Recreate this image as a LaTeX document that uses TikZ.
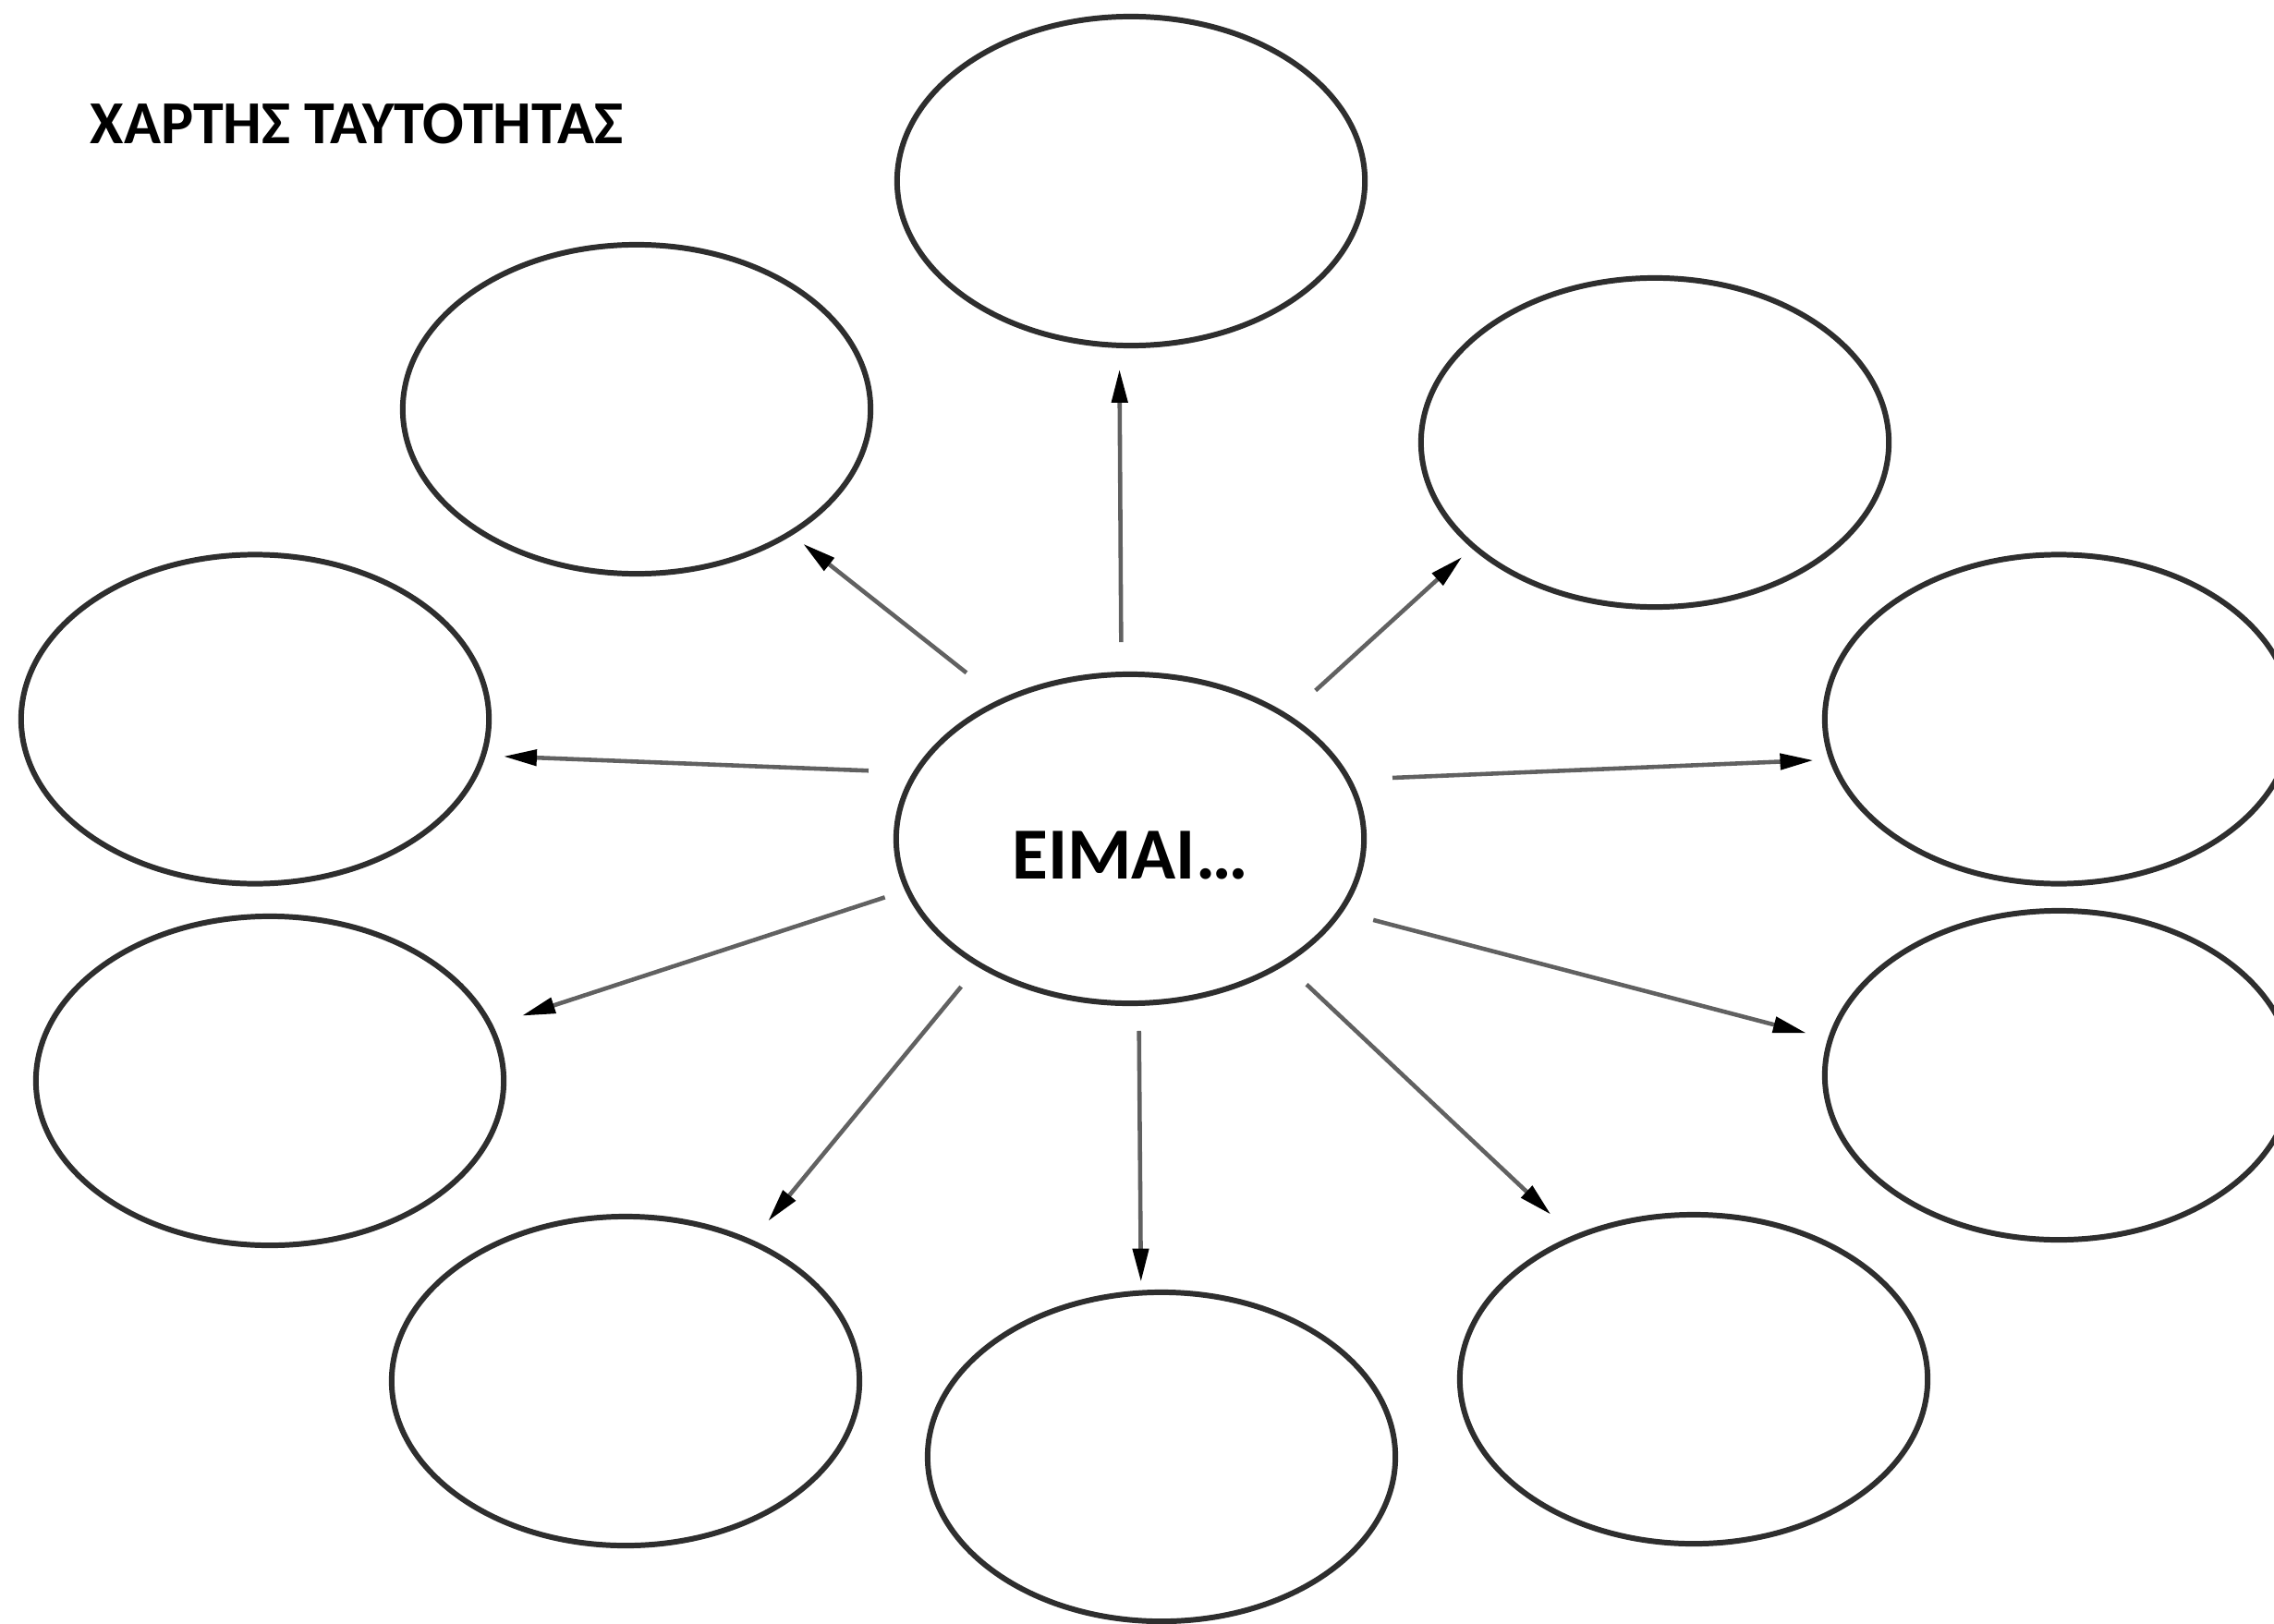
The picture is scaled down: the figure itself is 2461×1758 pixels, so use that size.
\documentclass[tikz,border=0pt]{standalone}
\usepackage{fontspec}
\setmainfont{Carlito}
\usetikzlibrary{arrows.meta,shapes.geometric}
\begin{document}
\begin{tikzpicture}[x=0.01cm,y=-0.01cm,
  bub/.style={ellipse, draw=black!82, line width=1.7pt, minimum width=5.06cm, minimum height=3.56cm, inner sep=0pt},
  arr/.style={draw=black!62, line width=1.3pt, -{Triangle[length=0.36cm,width=0.17cm,color=black]}},
  titletext/.style={font=\bfseries\fontsize{18.8pt}{23pt}\selectfont, inner sep=0pt},
  centertext/.style={font=\bfseries\fontsize{22.6pt}{27pt}\selectfont, inner sep=0pt}]
\useasboundingbox (0,0) rectangle (2461,1758);
\fill[white] (0,0) rectangle (2461,1758);
\clip (0,0) rectangle (2461,1758);

\node[titletext, anchor=base west] (title) at (97,156) {ΧΑΡΤΗΣ ΤΑΥΤΟΤΗΤΑΣ};

\node[bub] (C)  at (1223,908) {};
\node[centertext, anchor=base] (ctext) at (1223,951) {ΕΙΜΑΙ…};

\node[bub] (T)  at (1224,196) {};
\node[bub] (UL) at (689,443) {};
\node[bub] (UR) at (1791,479) {};
\node[bub] (L)  at (276,778.5) {};
\node[bub] (R)  at (2228,778.5) {};
\node[bub] (LL) at (292,1170) {};
\node[bub] (LR) at (2228,1164) {};
\node[bub] (BL) at (677,1495) {};
\node[bub] (B)  at (1257,1577) {};
\node[bub] (BR) at (1833,1493) {};

\draw[arr, shorten <=0.32cm, shorten >=0.23cm] (C.93.1) -- (T.266.4);
\draw[arr, shorten <=0.46cm, shorten >=0.15cm] (C.133.7) -- (UL.-39.6);
\draw[arr, shorten <=0.39cm, shorten >=0.14cm] (C.38.6) -- (UR.210);
\draw[arr, shorten <=0.48cm, shorten >=0.19cm] (C.163.3) -- (L.-9.65);
\draw[arr, shorten <=0.445cm, shorten >=0.17cm] (C.15) -- (R.190.6);
\draw[arr, shorten <=0.23cm, shorten >=0.33cm] (C.193.3) -- (LL.14.5);
\draw[arr, shorten <=0.34cm, shorten >=0.24cm] (C.341) -- (LR.171.4);
\draw[arr, shorten <=0.28cm, shorten >=0.265cm] (C.220.1) -- (BL.48.9);
\draw[arr, shorten <=0.27cm, shorten >=0.09cm] (C.273.3) -- (B.97.8);
\draw[arr, shorten <=0.31cm, shorten >=0.33cm] (C.321.3) -- (BR.130.65);
\end{tikzpicture}
\end{document}
